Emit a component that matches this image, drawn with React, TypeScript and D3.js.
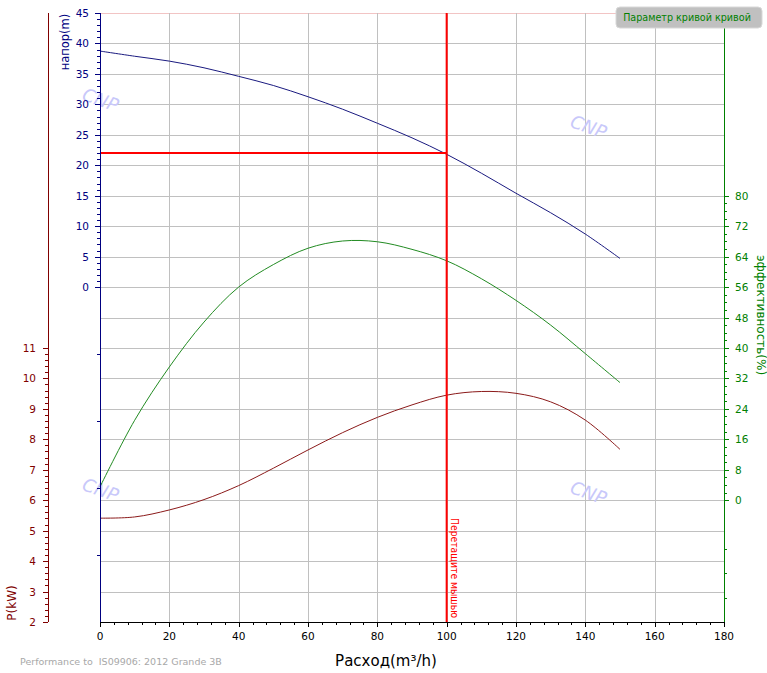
import React, { useEffect, useRef } from 'react';
import * as d3 from 'd3';

// flow points (m³/h) and curve values
const flow = [0, 10, 20, 30, 40, 50, 60, 70, 80, 90, 100, 110, 120, 130, 140, 150];
const head = [38.75, 37.9, 37.1, 36.0, 34.6, 33.1, 31.25, 29.2, 26.9, 24.5, 21.8, 18.7, 15.4, 12.2, 8.7, 4.7];
const efficiency = [3.5, 21.0, 35.0, 46.8, 56.0, 61.9, 66.2, 68.1, 67.9, 65.9, 62.9, 58.2, 52.5, 46.0, 38.5, 30.9];
const power = [5.41, 5.45, 5.68, 6.02, 6.48, 7.05, 7.65, 8.22, 8.72, 9.13, 9.45, 9.57, 9.51, 9.23, 8.63, 7.67];

const flowTicks = [0, 20, 40, 60, 80, 100, 120, 140, 160, 180];
const headTicks = [0, 5, 10, 15, 20, 25, 30, 35, 40, 45];
const headExtraTicks = [-11, -22, -33, -44];
const powerTicks = [2, 3, 4, 5, 6, 7, 8, 9, 10, 11];
const effTicks = [0, 8, 16, 24, 32, 40, 48, 56, 64, 72, 80];
const effExtraTicks = [-12.8, -19.2, -25.6];

const cursorFlow = 100;
const cursorHead = 22;

const FONT = '"DejaVu Sans", Verdana, sans-serif';

const App: React.FC = () => {
  const svgRef = useRef<SVGSVGElement>(null);

  useEffect(() => {
    if (!svgRef.current) return;
    const svg = d3.select(svgRef.current);
    svg.selectAll('*').remove();

    const left = 100, right = 724, top = 13, bottom = 622;

    const x = d3.scaleLinear().domain([0, 180]).range([left, right]);
    const yHead = d3.scaleLinear().domain([-55, 45]).range([bottom, top]);
    const yPow = d3.scaleLinear().domain([2, 22]).range([bottom, top]);
    const yEff = d3.scaleLinear().domain([-32, 128]).range([bottom, top]);

    // grid
    const grid = svg.append('g').attr('shape-rendering', 'crispEdges');
    d3.range(3, 22).forEach(v => {
      grid.append('line')
        .attr('x1', left).attr('x2', right)
        .attr('y1', Math.round(yPow(v)) + 0.5).attr('y2', Math.round(yPow(v)) + 0.5)
        .attr('stroke', '#c0c0c0');
    });
    grid.append('line')
      .attr('x1', left).attr('x2', right)
      .attr('y1', top + 0.5).attr('y2', top + 0.5)
      .attr('stroke', '#f2c4c4');
    flowTicks.slice(1, -1).forEach(v => {
      grid.append('line')
        .attr('x1', Math.round(x(v)) + 0.5).attr('x2', Math.round(x(v)) + 0.5)
        .attr('y1', top).attr('y2', bottom)
        .attr('stroke', '#c0c0c0');
    });

    // watermarks
    const marks: [number, number][] = [[100, 101], [588, 128], [100, 491], [588, 494]];
    marks.forEach(([mx, my]) => {
      svg.append('text')
        .attr('transform', `translate(${mx},${my}) rotate(20)`)
        .attr('text-anchor', 'middle')
        .attr('dominant-baseline', 'middle')
        .attr('fill', '#c8c8fa')
        .style('font-family', FONT)
        .style('font-size', '18px')
        .style('font-style', 'italic')
        .text('CNP');
    });

    // curves
    const curve = (vals: number[], y: d3.ScaleLinear<number, number>, color: string) => {
      const line = d3.line<number>()
        .x((_, i) => x(flow[i]))
        .y(d => y(d))
        .curve(d3.curveCatmullRom.alpha(0.5));
      svg.append('path')
        .attr('d', line(vals))
        .attr('fill', 'none')
        .attr('stroke', color)
        .attr('stroke-width', 1);
    };
    curve(head, yHead, '#1a1a80');
    curve(efficiency, yEff, '#228b22');
    curve(power, yPow, '#8b1a1a');

    // cursor lines
    svg.append('line')
      .attr('x1', x(cursorFlow)).attr('x2', x(cursorFlow))
      .attr('y1', top).attr('y2', bottom)
      .attr('stroke', '#ff0000').attr('stroke-width', 2);
    svg.append('line')
      .attr('x1', left).attr('x2', x(cursorFlow))
      .attr('y1', yHead(cursorHead)).attr('y2', yHead(cursorHead))
      .attr('stroke', '#ff0000').attr('stroke-width', 2);
    svg.append('text')
      .attr('transform', `translate(${x(cursorFlow) + 4},${518}) rotate(90)`)
      .attr('fill', '#ff0000')
      .attr('textLength', 100)
      .attr('lengthAdjust', 'spacingAndGlyphs')
      .style('font-family', FONT)
      .style('font-size', '11px')
      .text('Перетащите мышью');

    const axes = svg.append('g').attr('shape-rendering', 'crispEdges');

    // x axis
    const xAxis = axes.append('g');
    xAxis.append('line')
      .attr('x1', left).attr('x2', right)
      .attr('y1', bottom + 0.5).attr('y2', bottom + 0.5)
      .attr('stroke', '#000');
    d3.range(0, 181, 4).forEach(v => {
      const major = v % 20 === 0;
      xAxis.append('line')
        .attr('x1', Math.round(x(v)) + 0.5).attr('x2', Math.round(x(v)) + 0.5)
        .attr('y1', bottom).attr('y2', bottom + (major ? 5 : 3))
        .attr('stroke', '#000');
    });
    flowTicks.forEach(v => {
      xAxis.append('text')
        .attr('x', x(v)).attr('y', 640)
        .attr('text-anchor', 'middle')
        .attr('fill', '#000')
        .style('font-family', FONT)
        .style('font-size', '10.5px')
        .text(v);
    });
    xAxis.append('text')
      .attr('x', 386).attr('y', 666)
      .attr('text-anchor', 'middle')
      .attr('fill', '#000')
      .style('font-family', FONT)
      .style('font-size', '15px')
      .text('Расход(m³/h)');

    // head axis
    const hAxis = axes.append('g');
    const navy = '#000080';
    hAxis.append('line')
      .attr('x1', left + 0.5).attr('x2', left + 0.5)
      .attr('y1', top).attr('y2', bottom)
      .attr('stroke', navy);
    d3.range(0, 46, 1).forEach(v => {
      const major = v % 5 === 0;
      hAxis.append('line')
        .attr('x1', left - (major ? 5 : 3)).attr('x2', left)
        .attr('y1', Math.round(yHead(v)) + 0.5).attr('y2', Math.round(yHead(v)) + 0.5)
        .attr('stroke', navy);
    });
    headExtraTicks.forEach(v => {
      hAxis.append('line')
        .attr('x1', left - 3).attr('x2', left)
        .attr('y1', Math.round(yHead(v)) + 0.5).attr('y2', Math.round(yHead(v)) + 0.5)
        .attr('stroke', navy);
    });
    headTicks.forEach(v => {
      hAxis.append('text')
        .attr('x', 89).attr('y', yHead(v) + 4)
        .attr('text-anchor', 'end')
        .attr('fill', navy)
        .style('font-family', FONT)
        .style('font-size', '10.5px')
        .text(v);
    });
    hAxis.append('text')
      .attr('transform', 'translate(69,42) rotate(-90)')
      .attr('text-anchor', 'middle')
      .attr('fill', navy)
      .style('font-family', FONT)
      .style('font-size', '11.5px')
      .text('напор(m)');

    // power axis
    const pAxis = axes.append('g');
    const maroon = '#800000';
    const pX = 48;
    pAxis.append('line')
      .attr('x1', pX + 0.5).attr('x2', pX + 0.5)
      .attr('y1', top).attr('y2', bottom)
      .attr('stroke', maroon);
    d3.range(2, 11.01, 0.2).forEach(v => {
      const major = Math.abs(v - Math.round(v)) < 0.01;
      pAxis.append('line')
        .attr('x1', pX - (major ? 5 : 3)).attr('x2', pX)
        .attr('y1', Math.round(yPow(v)) + 0.5).attr('y2', Math.round(yPow(v)) + 0.5)
        .attr('stroke', maroon);
    });
    powerTicks.forEach(v => {
      pAxis.append('text')
        .attr('x', 36).attr('y', yPow(v) + 4)
        .attr('text-anchor', 'end')
        .attr('fill', maroon)
        .style('font-family', FONT)
        .style('font-size', '10.5px')
        .text(v);
    });
    pAxis.append('text')
      .attr('transform', 'translate(16,603) rotate(-90)')
      .attr('text-anchor', 'middle')
      .attr('fill', maroon)
      .style('font-family', FONT)
      .style('font-size', '12px')
      .text('P(kW)');

    // efficiency axis
    const eAxis = axes.append('g');
    const green = '#008000';
    eAxis.append('line')
      .attr('x1', right + 0.5).attr('x2', right + 0.5)
      .attr('y1', top).attr('y2', bottom)
      .attr('stroke', green);
    d3.range(0, 81, 2).forEach(v => {
      const major = v % 8 === 0;
      eAxis.append('line')
        .attr('x1', right).attr('x2', right + (major ? 5 : 3))
        .attr('y1', Math.round(yEff(v)) + 0.5).attr('y2', Math.round(yEff(v)) + 0.5)
        .attr('stroke', green);
    });
    effExtraTicks.forEach(v => {
      eAxis.append('line')
        .attr('x1', right).attr('x2', right + 3)
        .attr('y1', Math.round(yEff(v)) + 0.5).attr('y2', Math.round(yEff(v)) + 0.5)
        .attr('stroke', green);
    });
    effTicks.forEach(v => {
      eAxis.append('text')
        .attr('x', 735).attr('y', yEff(v) + 4)
        .attr('fill', green)
        .style('font-family', FONT)
        .style('font-size', '10.5px')
        .text(v);
    });
    eAxis.append('text')
      .attr('transform', 'translate(757,315) rotate(90)')
      .attr('text-anchor', 'middle')
      .attr('fill', green)
      .style('font-family', FONT)
      .style('font-size', '12px')
      .text('эффективность(%)');

    // legend button
    svg.append('rect')
      .attr('x', 616).attr('y', 7)
      .attr('width', 146).attr('height', 21)
      .attr('rx', 4)
      .attr('fill', '#c0c0c0')
      .attr('stroke', '#d8d8d8');
    svg.append('text')
      .attr('x', 687).attr('y', 21)
      .attr('text-anchor', 'middle')
      .attr('fill', green)
      .style('font-family', FONT)
      .style('font-size', '9.6px')
      .text('Параметр кривой кривой');

    // footer
    svg.append('text')
      .attr('x', 20).attr('y', 665)
      .attr('fill', '#a8a8a8')
      .style('font-family', FONT)
      .style('font-size', '9.5px')
      .style('white-space', 'pre')
      .text('Performance to  IS09906: 2012 Grande 3B');
  }, []);

  return (
    <div style={{ position: 'absolute', left: 0, top: 0 }}>
      <svg ref={svgRef} width={767} height={673} style={{ display: 'block', background: '#fff' }} />
    </div>
  );
};

export default App;
